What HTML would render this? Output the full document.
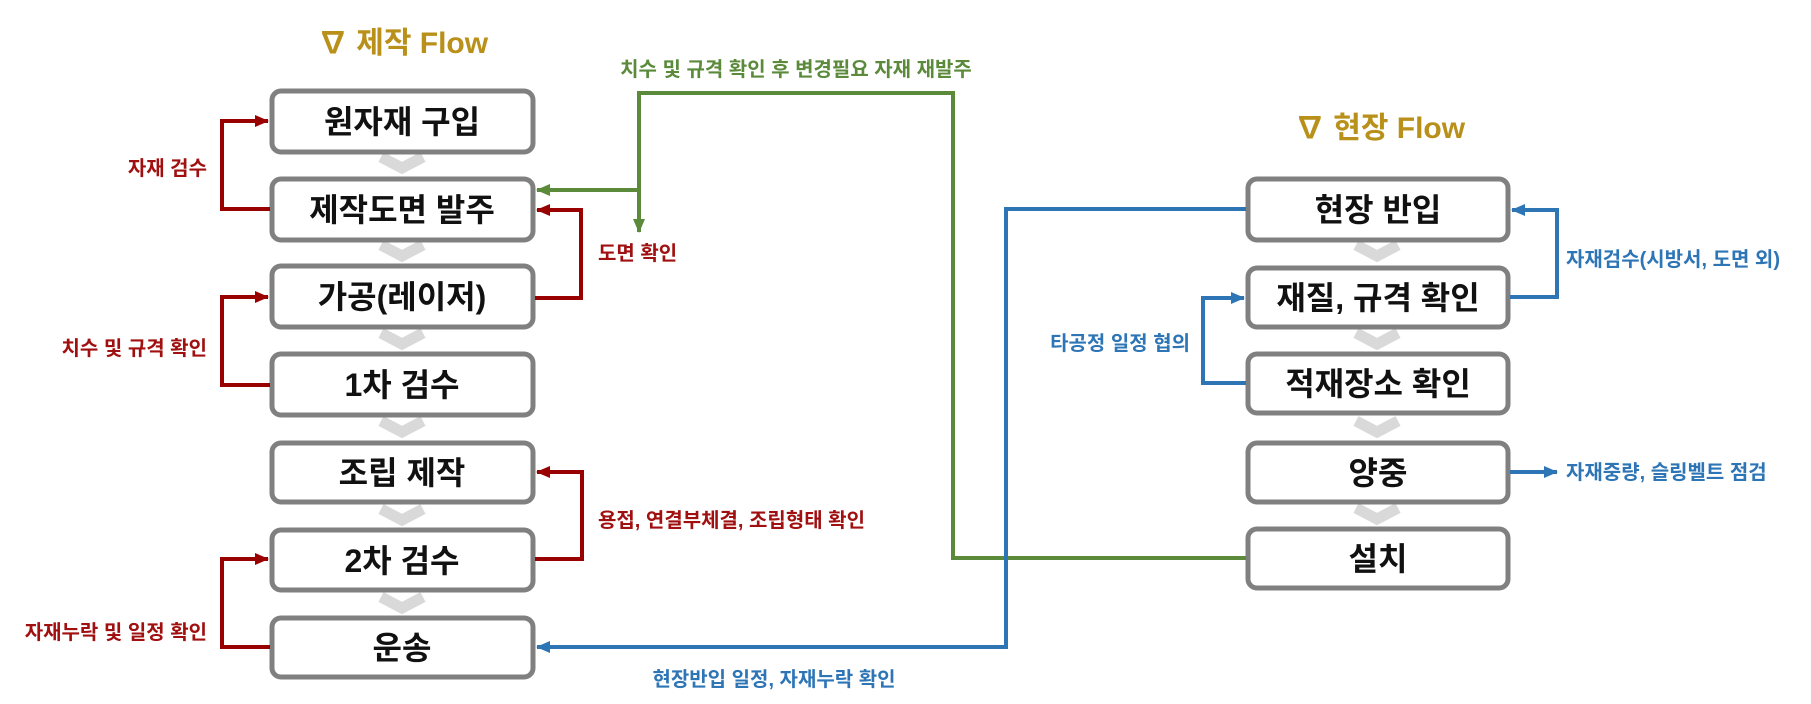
<!DOCTYPE html>
<html><head><meta charset="utf-8"><style>
html,body{margin:0;padding:0;background:#fff;width:1811px;height:704px;overflow:hidden}
svg text{font-family:"Liberation Sans","Noto Sans CJK KR",sans-serif}
.b{font-size:32px;font-weight:bold;fill:#111;text-anchor:middle}
.r{font-size:20px;font-weight:bold;fill:#a01010}
.g{font-size:20px;font-weight:bold;fill:#5a8a3a}
.u{font-size:20px;font-weight:bold;fill:#2e75b6}
.t{font-size:30px;font-weight:bold;fill:#b8901a;text-anchor:middle}
</style></head><body>
<svg width="1811" height="704" viewBox="0 0 1811 704" xmlns="http://www.w3.org/2000/svg">
<defs>
<marker id="ar" markerWidth="14" markerHeight="12" refX="13" refY="6" orient="auto" markerUnits="userSpaceOnUse" viewBox="0 0 14 12"><path d="M0,0 L14,6 L0,12 z" fill="#990000"/></marker>
<marker id="ag" markerWidth="14" markerHeight="12" refX="13" refY="6" orient="auto" markerUnits="userSpaceOnUse" viewBox="0 0 14 12"><path d="M0,0 L14,6 L0,12 z" fill="#5a8a3a"/></marker>
<marker id="ab" markerWidth="14" markerHeight="12" refX="13" refY="6" orient="auto" markerUnits="userSpaceOnUse" viewBox="0 0 14 12"><path d="M0,0 L14,6 L0,12 z" fill="#2e75b6"/></marker>
</defs>
<text class="t" x="403" y="53">∇ 제작 Flow</text>
<text class="t" x="1380" y="138">∇ 현장 Flow</text>
<g stroke="#d9d9d9" stroke-width="11" fill="none">
<polyline points="381,157 402,168 423,157"/>
<polyline points="381,245 402,256 423,245"/>
<polyline points="381,333 402,344 423,333"/>
<polyline points="381,421 402,432 423,421"/>
<polyline points="381,509 402,520 423,509"/>
<polyline points="381,597 402,608 423,597"/>
<polyline points="1356,245 1377,256 1398,245"/>
<polyline points="1356,333 1377,344 1398,333"/>
<polyline points="1356,421 1377,432 1398,421"/>
<polyline points="1356,508 1377,519 1398,508"/>
</g>
<g fill="#fff" stroke="#808080" stroke-width="5">
<rect x="272" y="91" width="261" height="61" rx="9"/>
<rect x="272" y="179" width="261" height="61" rx="9"/>
<rect x="272" y="266" width="261" height="61" rx="9"/>
<rect x="272" y="354" width="261" height="61" rx="9"/>
<rect x="272" y="443" width="261" height="59" rx="9"/>
<rect x="272" y="530" width="261" height="60" rx="9"/>
<rect x="272" y="618" width="261" height="59" rx="9"/>
<rect x="1248" y="179" width="260" height="61" rx="9"/>
<rect x="1248" y="268" width="260" height="59" rx="9"/>
<rect x="1248" y="354" width="260" height="59" rx="9"/>
<rect x="1248" y="443" width="260" height="59" rx="9"/>
<rect x="1248" y="529" width="260" height="59" rx="9"/>
</g>
<text class="b" x="402" y="133">원자재 구입</text>
<text class="b" x="402" y="221">제작도면 발주</text>
<text class="b" x="402" y="308">가공(레이저)</text>
<text class="b" x="402" y="396">1차 검수</text>
<text class="b" x="402" y="484">조립 제작</text>
<text class="b" x="402" y="572">2차 검수</text>
<text class="b" x="402" y="659">운송</text>
<text class="b" x="1378" y="221">현장 반입</text>
<text class="b" x="1378" y="309">재질, 규격 확인</text>
<text class="b" x="1378" y="395">적재장소 확인</text>
<text class="b" x="1378" y="484">양중</text>
<text class="b" x="1378" y="570">설치</text>
<g stroke="#990000" stroke-width="4" fill="none">
<polyline points="270,209 222,209 222,121 268,121" marker-end="url(#ar)"/>
<polyline points="270,385 222,385 222,297 268,297" marker-end="url(#ar)"/>
<polyline points="270,647 222,647 222,559 268,559" marker-end="url(#ar)"/>
<polyline points="535,298 581,298 581,210 537,210" marker-end="url(#ar)"/>
<polyline points="535,559 582,559 582,472 537,472" marker-end="url(#ar)"/>
</g>
<text class="r" x="207" y="175" text-anchor="end">자재 검수</text>
<text class="r" x="207" y="355" text-anchor="end">치수 및 규격 확인</text>
<text class="r" x="207" y="639" text-anchor="end">자재누락 및 일정 확인</text>
<text class="r" x="598" y="260">도면 확인</text>
<text class="r" x="598" y="527">용접, 연결부체결, 조립형태 확인</text>
<g stroke="#5a8a3a" stroke-width="4" fill="none">
<polyline points="1246,558 953,558 953,93 639,93 639,232" marker-end="url(#ag)"/>
<line x1="639" y1="190" x2="537" y2="190" marker-end="url(#ag)"/>
</g>
<text class="g" x="796" y="76" text-anchor="middle">치수 및 규격 확인 후 변경필요 자재 재발주</text>
<g stroke="#2e75b6" stroke-width="4" fill="none">
<polyline points="1246,209 1006,209 1006,647 537,647" marker-end="url(#ab)"/>
<polyline points="1510,297 1557,297 1557,210 1512,210" marker-end="url(#ab)"/>
<polyline points="1246,383 1203,383 1203,298 1244,298" marker-end="url(#ab)"/>
<line x1="1510" y1="472" x2="1557" y2="472" marker-end="url(#ab)"/>
</g>
<text class="u" x="774" y="686" text-anchor="middle">현장반입 일정, 자재누락 확인</text>
<text class="u" x="1566" y="266">자재검수(시방서, 도면 외)</text>
<text class="u" x="1190" y="350" text-anchor="end">타공정 일정 협의</text>
<text class="u" x="1566" y="479">자재중량, 슬링벨트 점검</text>
</svg>
</body></html>
